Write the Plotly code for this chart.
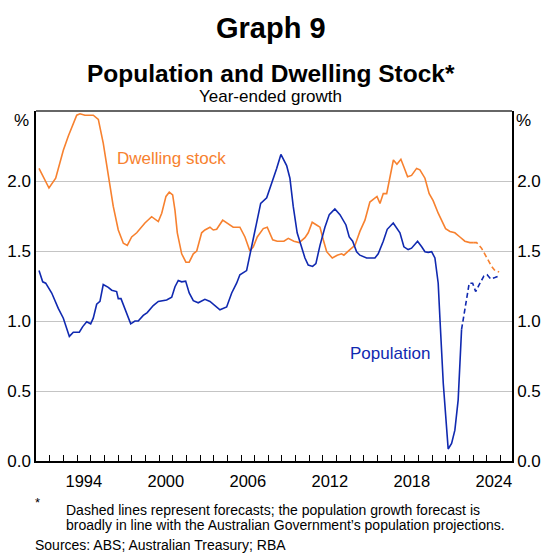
import plotly.graph_objects as go

# ---- data (decimal years, % year-ended growth) ----
dwell_years = [1991.22, 1991.95, 1992.44, 1993.00, 1993.36, 1993.98, 1994.22, 1994.58, 1995.19, 1995.56,
               1995.92, 1996.29, 1996.65, 1997.02, 1997.39, 1997.68, 1998.00, 1998.37, 1998.97, 1999.46,
               1999.95, 2000.20, 2000.51, 2000.75, 2001.00, 2001.17, 2001.34, 2001.66, 2001.97, 2002.21,
               2002.51, 2002.76, 2003.12, 2003.36, 2003.73, 2003.97, 2004.22, 2004.66, 2005.07, 2005.43,
               2005.92, 2006.29, 2006.65, 2006.90, 2007.19, 2007.63, 2007.92, 2008.32, 2008.65, 2009.14,
               2009.46, 2009.87, 2010.26, 2010.68, 2010.92, 2011.21, 2011.53, 2011.78, 2012.02, 2012.27,
               2012.68, 2013.04, 2013.36, 2013.53, 2013.97, 2014.34, 2014.70, 2015.07, 2015.43, 2015.80,
               2015.95, 2016.17, 2016.41, 2016.66, 2016.90, 2017.15, 2017.41, 2017.70, 2017.92, 2018.19,
               2018.48, 2018.85, 2019.09, 2019.46, 2019.77, 2020.06, 2020.43, 2020.68, 2020.97, 2021.29,
               2021.65, 2022.02, 2022.38, 2022.75, 2022.99]
dwell_values = [2.09, 1.95, 2.02, 2.22, 2.32, 2.47, 2.48, 2.47, 2.47, 2.44,
                2.27, 2.03, 1.82, 1.65, 1.555, 1.54, 1.60, 1.63, 1.70, 1.745,
                1.71, 1.77, 1.89, 1.92, 1.90, 1.79, 1.63, 1.48, 1.42, 1.42,
                1.48, 1.50, 1.63, 1.65, 1.67, 1.65, 1.655, 1.72, 1.69, 1.67,
                1.67, 1.60, 1.50, 1.53, 1.60, 1.66, 1.67, 1.58, 1.57, 1.57,
                1.59, 1.57, 1.56, 1.595, 1.63, 1.705, 1.686, 1.67, 1.58, 1.495,
                1.45, 1.47, 1.48, 1.47, 1.51, 1.54, 1.64, 1.72, 1.85, 1.88,
                1.89, 1.84, 1.91, 1.91, 2.03, 2.15, 2.12, 2.155, 2.10, 2.03,
                2.04, 2.09, 2.08, 2.02, 1.91, 1.86, 1.77, 1.72, 1.66, 1.64,
                1.63, 1.60, 1.57, 1.56, 1.56]
dwell_fc_years = [2022.99, 2023.24, 2023.60, 2023.97, 2024.34, 2024.58, 2024.89]
dwell_fc_values = [1.56, 1.56, 1.52, 1.45, 1.39, 1.36, 1.35]

pop_years = [1991.22, 1991.49, 1991.71, 1992.15, 1992.63, 1993.00, 1993.44, 1993.73, 1994.17, 1994.42,
             1994.71, 1995.00, 1995.19, 1995.44, 1995.68, 1995.92, 1996.29, 1996.54, 1996.90, 1997.02,
             1997.22, 1997.51, 1997.93, 1998.24, 1998.48, 1998.85, 1999.14, 1999.58, 1999.95, 2000.56,
             2000.93, 2001.17, 2001.41, 2001.66, 2001.95, 2002.21, 2002.51, 2002.87, 2003.36, 2003.73,
             2004.09, 2004.46, 2004.95, 2005.32, 2005.68, 2005.92, 2006.41, 2006.90, 2007.44, 2007.88,
             2008.24, 2008.61, 2008.92, 2009.34, 2009.58, 2009.82, 2010.11, 2010.44, 2010.68, 2010.92,
             2011.24, 2011.48, 2011.78, 2012.14, 2012.46, 2012.87, 2013.24, 2013.68, 2013.92, 2014.17,
             2014.46, 2014.70, 2014.99, 2015.19, 2015.80, 2016.04, 2016.41, 2016.70, 2017.14, 2017.63,
             2017.92, 2018.23, 2018.48, 2018.92, 2019.22, 2019.46, 2019.70, 2019.95, 2020.19, 2020.43,
             2020.55, 2020.80, 2021.16, 2021.41, 2021.65, 2021.89, 2022.14]
pop_values = [1.36, 1.28, 1.27, 1.20, 1.09, 1.02, 0.89, 0.92, 0.92, 0.96,
              0.995, 0.98, 1.02, 1.12, 1.14, 1.26, 1.24, 1.22, 1.21, 1.16,
              1.16, 1.08, 0.98, 1.00, 1.00, 1.04, 1.06, 1.11, 1.14, 1.15,
              1.17, 1.245, 1.29, 1.28, 1.285, 1.20, 1.145, 1.13, 1.155, 1.14,
              1.11, 1.08, 1.10, 1.20, 1.27, 1.33, 1.36, 1.60, 1.84, 1.88,
              1.98, 2.09, 2.19, 2.11, 2.02, 1.82, 1.63, 1.53, 1.45, 1.40,
              1.39, 1.41, 1.54, 1.67, 1.76, 1.80, 1.76, 1.686, 1.60, 1.57,
              1.495, 1.47, 1.46, 1.45, 1.45, 1.48, 1.57, 1.655, 1.70, 1.63,
              1.53, 1.51, 1.52, 1.57, 1.53, 1.495, 1.49, 1.495, 1.45, 1.27,
              1.03, 0.555, 0.086, 0.126, 0.22, 0.435, 0.94]
pop_fc_years = [2022.14, 2022.38, 2022.70, 2022.95, 2023.17, 2023.43, 2023.77, 2024.01, 2024.28, 2024.58, 2024.82]
pop_fc_values = [0.94, 1.08, 1.27, 1.27, 1.21, 1.26, 1.32, 1.33, 1.30, 1.31, 1.32]

label_years = [1994, 2000, 2006, 2012, 2018, 2024]
y_ticks = [0.0, 0.5, 1.0, 1.5, 2.0]

ORANGE = "#F7812F"
BLUE = "#1029B0"
FONT = "Arial, Liberation Sans, sans-serif"

W, H = 541, 553
L, R, T, B = 36, 29, 111, 92
plot_h = H - T - B
plot_w = W - L - R


def py(ypx):
    return (H - B - ypx) / plot_h


def px(xpx):
    return (xpx - L) / plot_w


fig = go.Figure()
fig.add_trace(go.Scatter(x=dwell_years, y=dwell_values, mode="lines",
                         line=dict(color=ORANGE, width=1.6), showlegend=False))
fig.add_trace(go.Scatter(x=dwell_fc_years, y=dwell_fc_values, mode="lines",
                         line=dict(color=ORANGE, width=1.6, dash="5px,3px"), showlegend=False))
fig.add_trace(go.Scatter(x=pop_years, y=pop_values, mode="lines",
                         line=dict(color=BLUE, width=1.6), showlegend=False))
fig.add_trace(go.Scatter(x=pop_fc_years, y=pop_fc_values, mode="lines",
                         line=dict(color=BLUE, width=1.6, dash="5px,3px"), showlegend=False))
# invisible trace for right axis
fig.add_trace(go.Scatter(x=[1991.0], y=[0], yaxis="y2", mode="markers",
                         marker=dict(opacity=0), showlegend=False, hoverinfo="skip"))

fig.update_layout(
    width=W, height=H,
    margin=dict(l=L, r=R, t=T, b=B, autoexpand=False),
    paper_bgcolor="white", plot_bgcolor="white",
    font=dict(family=FONT, size=17, color="black"),
    xaxis=dict(range=[1991.0, 2025.83], showgrid=False, zeroline=False, automargin=False,
               showline=True, linecolor="black", linewidth=1.5,
               tickmode="array", tickvals=[y + 0.5 for y in label_years],
               ticktext=[str(y) for y in label_years], ticks="",
               tickfont=dict(size=16.5), ticklabelstandoff=4,
               minor=dict(tickmode="array", tickvals=list(range(1992, 2026)),
                          ticks="inside", ticklen=6, tickcolor="black", tickwidth=1,
                          showgrid=False)),
    yaxis=dict(range=[0, 2.5], tickvals=y_ticks, ticktext=[f"{v:.1f}" for v in y_ticks],
               showgrid=True, gridcolor="#C4C4C4", gridwidth=1, zeroline=False, automargin=False,
               showline=True, linecolor="black", linewidth=1.5, ticks="",
               tickfont=dict(size=17)),
    yaxis2=dict(range=[0, 2.5], tickvals=y_ticks, ticktext=[f"{v:.1f}" for v in y_ticks],
                overlaying="y", side="right", showgrid=False, zeroline=False, automargin=False,
                showline=True, linecolor="black", linewidth=1.5, ticks="",
                tickfont=dict(size=17)),
)

# top border
fig.add_shape(type="line", xref="paper", yref="paper", x0=0, x1=1, y0=1, y1=1,
              line=dict(color="#666666", width=2))

ann = [
    dict(text="<b>Graph 9</b>", x=0.5 * W, y=28, size=29, xanchor="center"),
    dict(text="<b>Population and Dwelling Stock*</b>", x=0.5 * W, y=73, size=24.5, xanchor="center"),
    dict(text="Year-ended growth", x=0.5 * W, y=97, size=17, xanchor="center"),
    dict(text="%", x=31, y=120.5, size=17, xanchor="right"),
    dict(text="%", x=514, y=120.5, size=17, xanchor="left"),
    dict(text="*", x=37, y=502, size=13, xanchor="center"),
    dict(text="Dashed lines represent forecasts; the population growth forecast is",
         x=64, y=510, size=14, xanchor="left"),
    dict(text="broadly in line with the Australian Government\u2019s population projections.",
         x=64, y=524.5, size=14, xanchor="left"),
    dict(text="Sources: ABS; Australian Treasury; RBA", x=33, y=545, size=14, xanchor="left"),
]
annotations = []
for a in ann:
    annotations.append(dict(text=a["text"], x=px(a["x"]), y=py(a["y"]), xref="paper", yref="paper",
                            xanchor=a["xanchor"], yanchor="middle", showarrow=False,
                            font=dict(size=a["size"])))
annotations.append(dict(text="Dwelling stock", x=1996.8, y=(461 - 158.3) / 140, xref="x", yref="y",
                        xanchor="left", yanchor="middle", showarrow=False,
                        font=dict(size=17, color=ORANGE)))
annotations.append(dict(text="Population", x=2019.95, y=(461 - 353.3) / 140, xref="x", yref="y",
                        xanchor="right", yanchor="middle", showarrow=False,
                        font=dict(size=17, color=BLUE)))
fig.update_layout(annotations=annotations)

fig.write_html("out.html", config={"displayModeBar": False},
               post_script="document.body.style.margin='0';document.body.style.padding='0';")
